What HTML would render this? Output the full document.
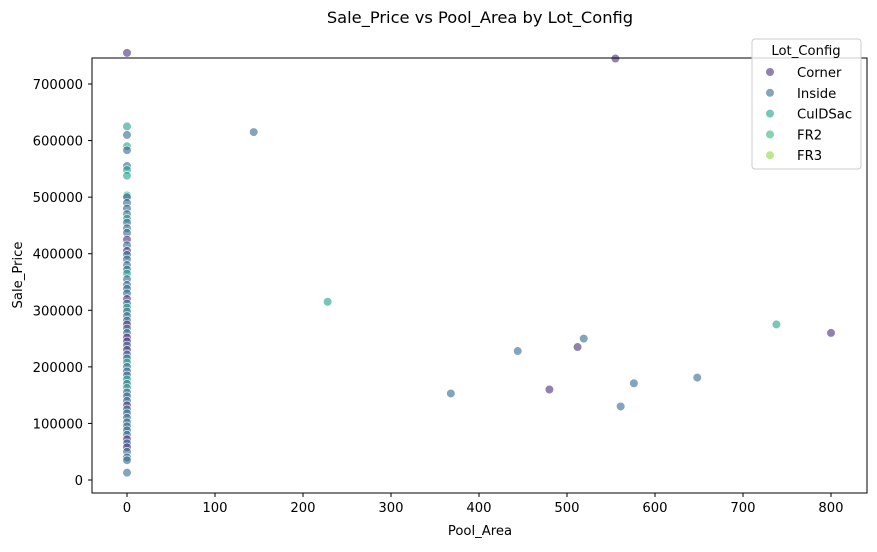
<!DOCTYPE html>
<html><head><meta charset="utf-8"><style>
body{margin:0;background:#fff;font-family:"Liberation Sans","DejaVu Sans",sans-serif;}
svg text{font-family:"DejaVu Sans","Liberation Sans",sans-serif;}
</style></head><body>
<svg id="chart" width="877" height="547" xmlns="http://www.w3.org/2000/svg">
<rect width="877" height="547" fill="#fff"/>
<text x="480" y="23" font-size="16.3" text-anchor="middle">Sale_Price vs Pool_Area by Lot_Config</text>
<g id="marks"></g>
<rect x="92" y="58" width="775" height="435" fill="none" stroke="#000" stroke-width="1"/>
<g id="axes"></g>
<text x="480" y="535" font-size="13.2" text-anchor="middle">Pool_Area</text>
<text transform="translate(22,275) rotate(-90)" font-size="13.2" text-anchor="middle">Sale_Price</text>
<g id="legend">
<rect x="752" y="39" width="109" height="130" rx="3" fill="#fff" fill-opacity="0.8" stroke="#ccc"/>
<text x="806" y="55" font-size="13.2" text-anchor="middle">Lot_Config</text>
</g>
</svg>
<script>
const categories=["Corner","Inside","CulDSac","FR2","FR3"];
const colors=["#472d7b","#31688e","#1f9e89","#35b779","#8fd744"];
const xTicks=[0,100,200,300,400,500,600,700,800];
const yTicks=[0,100000,200000,300000,400000,500000,600000,700000];
const poolArea=[0,555,144,228,738,800,519,512,444,648,576,480,368,561];
const salePrice=[755000,745000,615000,315000,275000,260000,250000,235000,228000,181000,171000,160000,153000,130000];
const lotConfig=["Corner","Corner","Inside","CulDSac","CulDSac","Corner","Inside","Corner","Inside","Inside","Inside","Corner","Inside","Inside"];
const zeroPrices=[625000,610000,590000,583000,555000,548000,538000,503000,500000,490000,480000,470000,462000,455000,445000,437000,425000,415000,405000,398000,390000,380000,372000,365000,355000,345000,338000,330000,320000,312000,305000,298000,290000,282000,275000,268000,260000,252000,245000,238000,230000,222000,215000,208000,200000,192000,185000,178000,170000,163000,155000,148000,140000,132000,125000,118000,110000,102000,95000,88000,80000,72000,65000,58000,50000,40000,35000,13000];
const zeroConfig=["CulDSac","Inside","CulDSac","Inside","Inside","CulDSac","CulDSac","CulDSac","Inside","Inside","Inside","Inside","CulDSac","Inside","Inside","Inside","Corner","Inside","Corner","Inside","Inside","Inside","Inside","CulDSac","Inside","Inside","Inside","Inside","Corner","Inside","CulDSac","Inside","Inside","Inside","Corner","Inside","Inside","Corner","Corner","Inside","Corner","Inside","Inside","CulDSac","Inside","Inside","Inside","CulDSac","Inside","CulDSac","Inside","Inside","Inside","Corner","Inside","Inside","Inside","Inside","Inside","Inside","Inside","Corner","Inside","Corner","Inside","Inside","Inside","Inside"];
const X=v=>127+v*(831-127)/800;
const Y=v=>480-v*396/700000;
const NS="http://www.w3.org/2000/svg";
const marks=document.getElementById('marks'),axes=document.getElementById('axes'),leg=document.getElementById('legend');
function dot(px,py,cat,parent){
  const c=document.createElementNS(NS,'circle');
  c.setAttribute('cx',px);c.setAttribute('cy',py);c.setAttribute('r',4.3);
  c.setAttribute('fill',colors[categories.indexOf(cat)]);c.setAttribute('fill-opacity',0.6);
  c.setAttribute('stroke','#fff');c.setAttribute('stroke-width',0.6);
  
  
  parent.appendChild(c);
}
zeroPrices.forEach((p,i)=>dot(X(0),Y(p),zeroConfig[i],marks));
poolArea.forEach((a,i)=>dot(X(a),Y(salePrice[i]),lotConfig[i],marks));
function t(x,y,s,anchor){const e=document.createElementNS(NS,'text');e.setAttribute('x',x);e.setAttribute('y',y);e.setAttribute('font-size',13.2);e.setAttribute('text-anchor',anchor);e.textContent=s;return e;}
function ln(x1,y1,x2,y2){const l=document.createElementNS(NS,'line');l.setAttribute('x1',x1);l.setAttribute('y1',y1);l.setAttribute('x2',x2);l.setAttribute('y2',y2);l.setAttribute('stroke','#000');return l;}
xTicks.forEach(v=>{
  axes.appendChild(ln(X(v),493,X(v),497));
  const e=t(X(v),512,String(v),'middle');
  
  
  axes.appendChild(e);
});
yTicks.forEach(v=>{
  axes.appendChild(ln(88,Y(v),92,Y(v)));
  const e=t(83,Y(v)+5,String(v),'end');
  
  
  axes.appendChild(e);
});
categories.forEach((c,i)=>{
  const g=document.createElementNS(NS,'g');
  
  
  const y=72+i*20.8;
  dot(770,y,c,g);
  g.appendChild(t(797,y+5,c,'start'));
  leg.appendChild(g);
});
</script>
</body></html>
